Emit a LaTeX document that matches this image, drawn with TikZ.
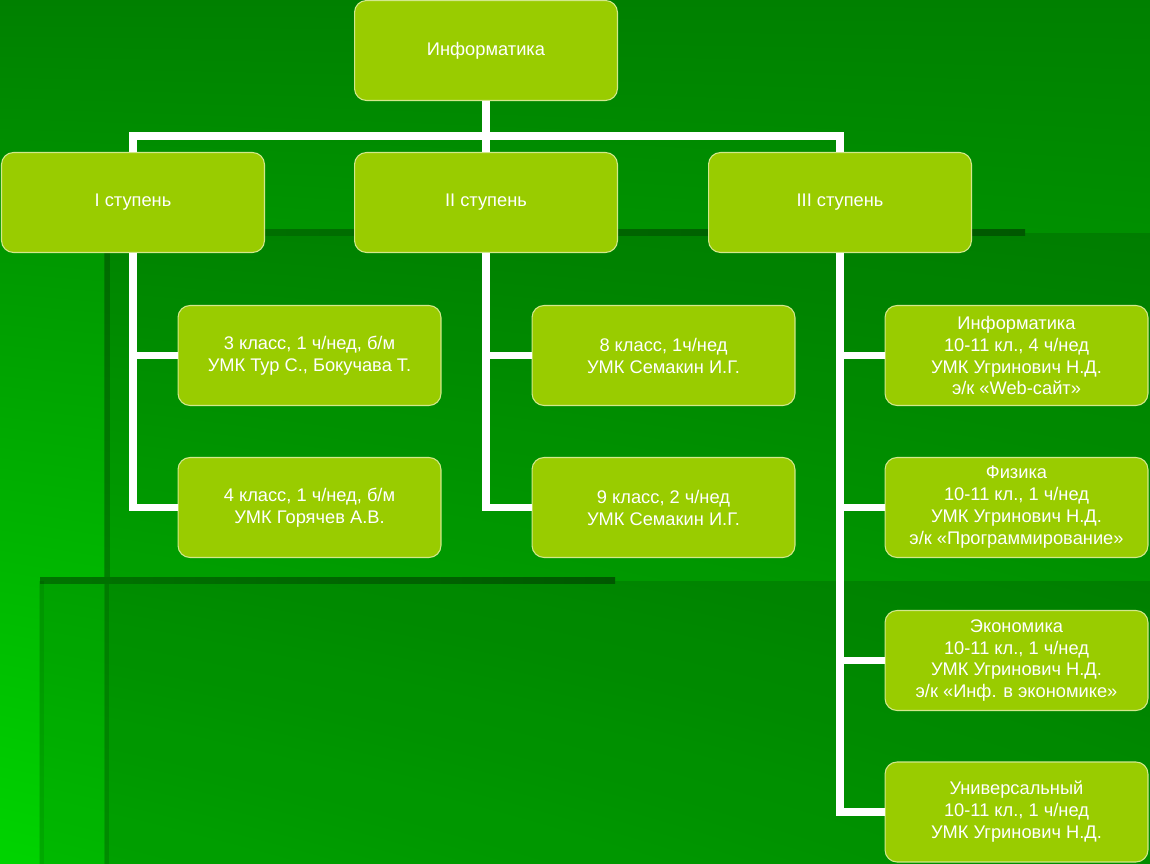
\documentclass[tikz,border=0pt]{standalone}
\usepackage{fontspec}
\setmainfont{Liberation Sans}
\usepackage{tikz}
\usetikzlibrary{shadings}

\definecolor{bgtop}{HTML}{008000}
\definecolor{bglowleft}{HTML}{00D400}
\definecolor{bglowright}{HTML}{00B800}
\definecolor{edgelight}{HTML}{007400}
\definecolor{edgedark}{HTML}{005800}
\definecolor{boxgreen}{HTML}{99CC00}
\definecolor{boxedge}{HTML}{D2E88C}

\begin{document}
\begin{tikzpicture}[x=0.02cm,y=-0.02cm]
	\tikzstyle{box}=[rectangle,rounded corners=0.24cm,minimum width=5.26cm,minimum height=2cm,inner sep=2pt,fill=boxgreen,draw=boxedge,line width=0.6pt,text=white,align=center,font=\fontsize{10.4}{12.5}\selectfont]
	\tikzstyle{link}=[draw=white,line width=4pt]
	% background
	\useasboundingbox (0,0) rectangle (1150,864);
	\shade[upper left=bgtop,upper right=bgtop,lower left=bglowleft,lower right=bglowright] (0,0) rectangle (1150,864);
	\fill[black,opacity=0.12] (105,233) rectangle (1150,864);
	\fill[black,opacity=0.12] (40,581) rectangle (1150,864);
	\shade[left color=edgelight,right color=edgedark] (105,230) rectangle (1025,236);
	\fill[black,opacity=0.2] (104,233) rectangle (110,581);
	\fill[black,opacity=0.12] (104,581) rectangle (109,864);
	\shade[left color=edgelight,right color=edgedark] (40,578) rectangle (615,584);
	\fill[black,opacity=0.08] (39,581) rectangle (44,864);
	% tree
	\node[box] (inf) at (486,50.5) {Информатика};
	\node[box] (s1) at (133,202.5) {I ступень};
	\node[box] (s2) at (486,202.5) {II ступень};
	\node[box] (s3) at (840,202.5) {III ступень};
	\coordinate (bar) at (486,136);
	\draw[link] (inf.south) -- (s2.north);
	\draw[link] (s1.north) -- (s1.north |- bar) -- (s3.north |- bar) -- (s3.north);
	\node[box] (k3) at (309.5,355.5) {3 класс, 1 ч/нед, б/м\\УМК Тур С., Бокучава Т.};
	\node[box] (k4) at (309.5,507.5) {4 класс, 1 ч/нед, б/м\\УМК Горячев А.В.};
	\node[box] (k8) at (663.5,355.5) {8 класс, 1ч/нед\\УМК Семакин И.Г.};
	\node[box] (k9) at (663.5,507.5) {9 класс, 2 ч/нед\\УМК Семакин И.Г.};
	\draw[link] (s1.south) |- (k3.west);
	\draw[link] (s1.south) |- (k4.west);
	\draw[link] (s2.south) |- (k8.west);
	\draw[link] (s2.south) |- (k9.west);
	\foreach \n/\y/\t in {1/355.5/{Информатика\\10-11 кл., 4 ч/нед\\УМК Угринович Н.Д.\\э/к «Web-сайт»},
		2/507.5/{Физика\\10-11 кл., 1 ч/нед\\УМК Угринович Н.Д.\\э/к «Программирование»},
		3/660.5/{Экономика\\10-11 кл., 1 ч/нед\\УМК Угринович Н.Д.\\э/к «Инф. в экономике»},
		4/812/{Универсальный\\10-11 кл., 1 ч/нед\\УМК Угринович Н.Д.}}{
		\node[box] (p\n) at (1016.5,\y) {\t};
		\draw[link] (s3.south) |- (p\n.west);
	};
\end{tikzpicture}
\end{document}
